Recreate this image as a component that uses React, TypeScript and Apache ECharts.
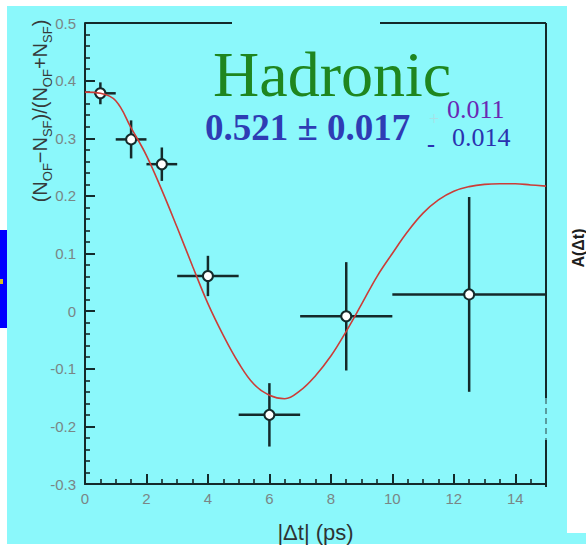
import React, { useEffect, useRef } from "react";
import * as echarts from "echarts";

// Measured asymmetry per |Δt| bin
const binCenters = [0.5, 1.5, 2.5, 4, 6, 8.5, 12.5];
const binLow = [0.3, 1, 2, 3, 5, 7, 10];
const binHigh = [1, 2, 3, 5, 7, 10, 15];
const asymmetry = [0.378, 0.298, 0.255, 0.061, -0.18, -0.009, 0.029];
const asymErr = [0.019, 0.033, 0.029, 0.035, 0.055, 0.094, 0.169];

// Fitted asymmetry curve
const fitT = [
  0, 0.5, 1, 1.5, 2, 2.5, 3, 3.5, 4, 4.5, 5, 5.5, 6, 6.5, 7, 7.5, 8, 8.5, 9,
  9.5, 10, 10.5, 11, 11.5, 12, 12.5, 13, 13.5, 14, 14.5, 15,
];
const fitA = [
  0.38, 0.378, 0.365, 0.318, 0.27, 0.21, 0.145, 0.078, 0.013, -0.042, -0.09,
  -0.127, -0.146, -0.152, -0.138, -0.112, -0.078, -0.035, 0.012, 0.06, 0.1,
  0.138, 0.17, 0.193, 0.208, 0.216, 0.22, 0.221, 0.221, 0.219, 0.217,
];

const xTickValues = [0, 2, 4, 6, 8, 10, 12, 14];
const yTickValues = [-0.3, -0.2, -0.1, 0, 0.1, 0.2, 0.3, 0.4, 0.5];

const CYAN = "#8bf8fb";
const AXIS = "#142a2a";
const LABEL = "#7a8686";

const GRID = { left: 85, top: 23, right: 40, bottom: 61 };
const W = 586;
const H = 548;

export default function App() {
  const ref = useRef<HTMLDivElement>(null);

  useEffect(() => {
    if (!ref.current) return;
    const chart = echarts.init(ref.current, null, { renderer: "svg" });

    const gx0 = GRID.left;
    const gx1 = W - GRID.right;
    const gy0 = GRID.top;
    const gy1 = H - GRID.bottom;

    const sans = "'Liberation Sans', Arial, sans-serif";
    const serif = "'Liberation Serif', 'Times New Roman', serif";

    chart.setOption({
      animation: false,
      backgroundColor: CYAN,
      grid: { ...GRID, containLabel: false },
      xAxis: {
        type: "value",
        min: 0,
        max: 15,
        interval: 2,
        name: "|Δt| (ps)",
        nameLocation: "middle",
        nameGap: 37,
        nameTextStyle: { fontFamily: sans, fontSize: 22, color: "#2e3434" },
        axisLine: { show: true, onZero: false, lineStyle: { color: AXIS, width: 2 } },
        axisTick: { show: true, inside: true, length: 10, lineStyle: { color: AXIS, width: 2 } },
        minorTick: { show: true, splitNumber: 4, length: 5, lineStyle: { color: AXIS, width: 1.6 } },
        splitLine: { show: false },
        axisLabel: {
          fontFamily: sans,
          fontSize: 15,
          color: LABEL,
          margin: 7,
          showMaxLabel: false,
          formatter: (v: number) =>
            xTickValues.includes(Math.round(v)) ? String(Math.round(v)) : "",
        },
      },
      yAxis: {
        type: "value",
        min: -0.3,
        max: 0.5,
        interval: 0.1,
        axisLine: { show: true, onZero: false, lineStyle: { color: AXIS, width: 2 } },
        axisTick: { show: true, inside: true, length: 10, lineStyle: { color: AXIS, width: 2 } },
        minorTick: { show: true, splitNumber: 5, length: 5, lineStyle: { color: AXIS, width: 1.6 } },
        splitLine: { show: false },
        axisLabel: {
          fontFamily: sans,
          fontSize: 15,
          color: LABEL,
          margin: 9,
          formatter: (v: number) => {
            const r = Math.round(v * 10) / 10;
            const hit = yTickValues.find((t) => Math.abs(t - r) < 1e-9);
            return hit === undefined ? "" : String(hit);
          },
        },
      },
      series: [
        {
          type: "custom",
          z: 2,
          data: binCenters.map((x, i) => [x, asymmetry[i], binLow[i], binHigh[i], asymErr[i]]),
          encode: { x: 0, y: 1 },
          renderItem: (_params: any, api: any) => {
            const x = api.value(0);
            const y = api.value(1);
            const lo = api.value(2);
            const hi = api.value(3);
            const e = api.value(4);
            const pL = api.coord([lo, y]);
            const pR = api.coord([hi, y]);
            const pT = api.coord([x, y + e]);
            const pB = api.coord([x, y - e]);
            const st = { stroke: AXIS, lineWidth: 2.5 };
            return {
              type: "group",
              children: [
                { type: "line", shape: { x1: pL[0], y1: pL[1], x2: pR[0], y2: pR[1] }, style: st },
                { type: "line", shape: { x1: pT[0], y1: pT[1], x2: pB[0], y2: pB[1] }, style: st },
              ],
            };
          },
        },
        {
          type: "scatter",
          z: 3,
          symbol: "circle",
          symbolSize: 10,
          itemStyle: { color: "#ffffff", borderColor: AXIS, borderWidth: 2, opacity: 1 },
          data: binCenters.map((x, i) => [x, asymmetry[i]]),
        },
        {
          type: "line",
          z: 4,
          smooth: 0.4,
          showSymbol: false,
          lineStyle: { color: "#cc3d38", width: 1.6 },
          data: fitT.map((t, i) => [t, fitA[i]]),
        },
      ],
      graphic: [
        // page margins around the slide
        { type: "rect", shape: { x: 0, y: 0, width: W, height: 6 }, style: { fill: "#ffffff" }, silent: true },
        { type: "rect", shape: { x: 0, y: 0, width: 7, height: H }, style: { fill: "#ffffff" }, silent: true },
        { type: "rect", shape: { x: 567, y: 0, width: 19, height: 533 }, style: { fill: "#ffffff" }, silent: true },
        { type: "rect", shape: { x: 0, y: 544, width: W, height: 4 }, style: { fill: "#ffffff" }, silent: true },
        { type: "rect", shape: { x: 0, y: 230, width: 7, height: 98 }, style: { fill: "#0000ff" }, silent: true },
        { type: "rect", shape: { x: 0, y: 279, width: 3, height: 5 }, style: { fill: "#d8c020" }, silent: true },
        // frame: top (broken above the title) and right
        { type: "line", shape: { x1: gx0, y1: gy0, x2: 232, y2: gy0 }, style: { stroke: AXIS, lineWidth: 2 } },
        { type: "line", shape: { x1: 380, y1: gy0, x2: gx1, y2: gy0 }, style: { stroke: AXIS, lineWidth: 2 } },
        { type: "line", shape: { x1: gx1, y1: gy0, x2: gx1, y2: 398 }, style: { stroke: AXIS, lineWidth: 2 } },
        {
          type: "line",
          shape: { x1: gx1, y1: 398, x2: gx1, y2: 440 },
          style: { stroke: "#3a6060", lineWidth: 1.2, lineDash: [6, 4] },
        },
        { type: "line", shape: { x1: gx1, y1: 440, x2: gx1, y2: gy1 }, style: { stroke: AXIS, lineWidth: 2 } },
        // y-axis title
        {
          type: "text",
          x: 40,
          y: 111,
          rotation: Math.PI / 2,
          style: {
            text: "{n|(N}{s|OF}{n|−N}{s|SF}{n|)/(N}{s|OF}{n|+N}{s|SF}{n|)}",
            align: "center",
            verticalAlign: "middle",
            fill: "#353a3a",
            rich: {
              n: { fontFamily: sans, fontSize: 20, lineHeight: 28, fill: "#353a3a" },
              s: { fontFamily: sans, fontSize: 13, lineHeight: 16, verticalAlign: "bottom", fill: "#353a3a" },
            },
          },
        },
        // annotation
        {
          type: "text",
          x: 213,
          y: 74,
          style: {
            text: "Hadronic",
            font: `64px ${serif}`,
            fill: "#1f861f",
            align: "left",
            verticalAlign: "middle",
          },
        },
        {
          type: "text",
          x: 205,
          y: 127,
          style: {
            text: "0.521 ± 0.017",
            font: `bold 37px ${serif}`,
            fill: "#2e3cb4",
            align: "left",
            verticalAlign: "middle",
          },
        },
        {
          type: "text",
          x: 434,
          y: 119,
          style: { text: "+", font: `18px ${serif}`, fill: "#a8e0e6", align: "center", verticalAlign: "middle" },
        },
        {
          type: "text",
          x: 447,
          y: 109,
          style: { text: "0.011", font: `26px ${serif}`, fill: "#6a28b4", align: "left", verticalAlign: "middle" },
        },
        {
          type: "text",
          x: 431,
          y: 144,
          style: { text: "-", font: `bold 24px ${serif}`, fill: "#2a32b0", align: "center", verticalAlign: "middle" },
        },
        {
          type: "text",
          x: 452,
          y: 137,
          style: { text: "0.014", font: `26px ${serif}`, fill: "#2a32b0", align: "left", verticalAlign: "middle" },
        },
        // neighbouring panel's axis title
        {
          type: "text",
          x: 578,
          y: 248,
          rotation: Math.PI / 2,
          style: { text: "A(Δt)", font: `bold 16px ${sans}`, fill: "#1e1e1e", align: "center", verticalAlign: "middle" },
        },
      ],
    });

    return () => chart.dispose();
  }, []);

  return (
    <div
      ref={ref}
      style={{ position: "fixed", left: 0, top: 0, width: W, height: H }}
    />
  );
}
